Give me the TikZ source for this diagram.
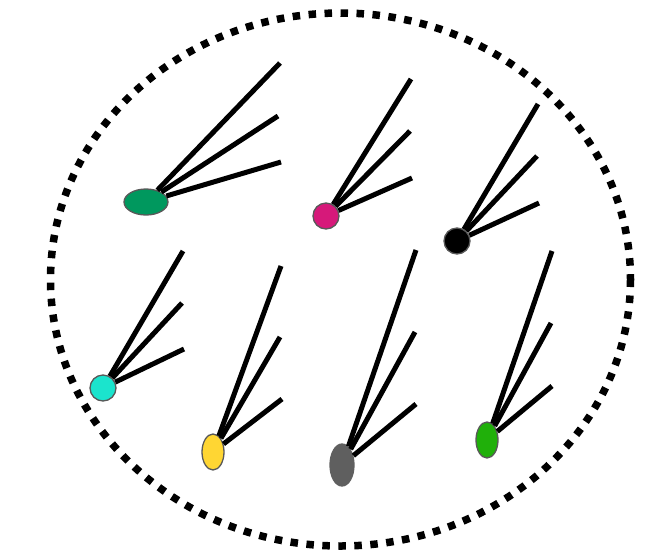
\documentclass[tikz,border=0pt]{standalone}
\usetikzlibrary{shapes.geometric}
\begin{document}
\begin{tikzpicture}[x=1pt,y=-1pt,
  blob/.style={ellipse,draw=black!65,line width=1.3pt,inner sep=0pt},
  ray/.style={line width=5pt},
  ]
\definecolor{cA}{RGB}{0,152,94}
\definecolor{cB}{RGB}{214,25,122}
\definecolor{cC}{RGB}{0,0,0}
\definecolor{cD}{RGB}{27,228,205}
\definecolor{cE}{RGB}{255,214,51}
\definecolor{cF}{RGB}{95,95,95}
\definecolor{cG}{RGB}{32,176,10}
\useasboundingbox (0,0) rectangle (667,550);
\draw[line width=7.5pt,dash pattern=on 7.5pt off 8.5pt] (340.5,279.5) ellipse [x radius=290,y radius=266.5];
% nodes
\node[blob,fill=cA,minimum width=44pt,minimum height=26pt] (a) at (146,202) {};
\node[blob,fill=cB,minimum width=26pt,minimum height=26pt] (b) at (326,216) {};
\node[blob,fill=cC,minimum width=26pt,minimum height=26pt] (c) at (457,241) {};
\node[blob,fill=cD,minimum width=26pt,minimum height=26pt] (d) at (103,388) {};
\node[blob,fill=cE,minimum width=22pt,minimum height=36pt] (e) at (213,452) {};
\node[blob,fill=cF,draw=cF,minimum width=24pt,minimum height=42pt] (f) at (342,465) {};
\node[blob,fill=cG,minimum width=22pt,minimum height=36pt] (g) at (487,440) {};
% ray ends
\coordinate (a1) at (280,63);  \coordinate (a2) at (278,116); \coordinate (a3) at (281,162);
\coordinate (b1) at (411,79);  \coordinate (b2) at (410,131); \coordinate (b3) at (412,178);
\coordinate (c1) at (538,104); \coordinate (c2) at (537,156); \coordinate (c3) at (539,203);
\coordinate (d1) at (183,251); \coordinate (d2) at (182,303); \coordinate (d3) at (184,349);
\coordinate (e1) at (281,266); \coordinate (e2) at (280,337); \coordinate (e3) at (282,399);
\coordinate (f1) at (416,250); \coordinate (f2) at (415,332); \coordinate (f3) at (416,404);
\coordinate (g1) at (552,251); \coordinate (g2) at (551,323); \coordinate (g3) at (552,386);
\foreach \n in {a,b,c,d,e,f,g}{
  \foreach \k in {1,2,3}{
    \draw[ray] (\n) -- (\n\k);
  }
}
\end{tikzpicture}
\end{document}
